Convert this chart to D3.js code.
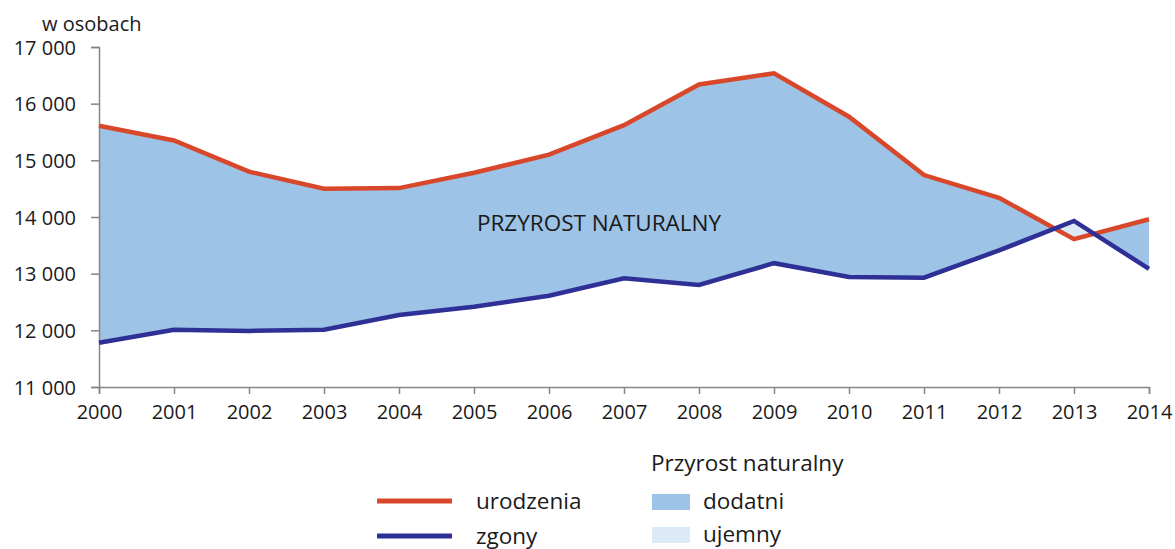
<!DOCTYPE html>
<html>
<head>
<meta charset="utf-8">
<script src="https://cdn.jsdelivr.net/npm/d3@7"></script>
<style>
  body { margin: 0; background: #fff; }
  text { font-family: "Open Sans", sans-serif; fill: #1a1a1a; }
</style>
</head>
<body>
<script>
const width = 1175, height = 549;

// data
const years = [2000, 2001, 2002, 2003, 2004, 2005, 2006, 2007, 2008, 2009, 2010, 2011, 2012, 2013, 2014];
const urodzenia = [15610, 15350, 14800, 14500, 14510, 14780, 15100, 15620, 16340, 16535, 15770, 14740, 14340, 13610, 13960];
const zgony = [11780, 12010, 11990, 12010, 12270, 12415, 12610, 12920, 12800, 13185, 12940, 12930, 13410, 13930, 13085];
const yTicks = [11000, 12000, 13000, 14000, 15000, 16000, 17000];

const data = years.map((y, i) => ({year: y, b: urodzenia[i], d: zgony[i]}));

const x = d3.scaleLinear().domain([2000, 2014]).range([99, 1149]);
const y = d3.scaleLinear().domain([11000, 17000]).range([387, 47]);

const svg = d3.select("body").append("svg")
    .attr("width", width)
    .attr("height", height);

const fmt = v => d3.format(",")(v).replace(",", " ");

// clip paths for positive / negative difference
const defs = svg.append("defs");
defs.append("clipPath").attr("id", "below-b")
  .append("path").datum(data)
  .attr("d", d3.area().x(d => x(d.year)).y0(height).y1(d => y(d.b)));
defs.append("clipPath").attr("id", "below-d")
  .append("path").datum(data)
  .attr("d", d3.area().x(d => x(d.year)).y0(height).y1(d => y(d.d)));

svg.append("path").datum(data)
  .attr("clip-path", "url(#below-b)")
  .attr("fill", "#9dc3e6")
  .attr("d", d3.area().x(d => x(d.year)).y0(0).y1(d => y(d.d)));

svg.append("path").datum(data)
  .attr("clip-path", "url(#below-d)")
  .attr("fill", "#dce9f6")
  .attr("d", d3.area().x(d => x(d.year)).y0(0).y1(d => y(d.b)));

// axes
const yAxis = svg.append("g")
  .attr("transform", "translate(99,0)")
  .call(d3.axisLeft(y).tickValues(yTicks).tickSize(8).tickPadding(15).tickFormat(fmt));
const xAxis = svg.append("g")
  .attr("transform", "translate(0,387)")
  .call(d3.axisBottom(x).tickValues(years).tickSize(7).tickPadding(11).tickFormat(d3.format("d")));

[yAxis, xAxis].forEach(g => {
  g.select(".domain").attr("stroke", "#868686").attr("stroke-width", 1.5);
  g.selectAll(".tick line").attr("stroke", "#868686").attr("stroke-width", 1.5);
  g.selectAll(".tick text").style("font-size", "20px").attr("fill", "#1a1a1a");
});
yAxis.selectAll(".tick text").attr("dy", "0.36em");

// lines
const line = key => d3.line().x(d => x(d.year)).y(d => y(d[key]));
svg.append("path").datum(data)
  .attr("fill", "none").attr("stroke", "#d9472b").attr("stroke-width", 4.5)
  .attr("d", line("b"));
svg.append("path").datum(data)
  .attr("fill", "none").attr("stroke", "#2f3096").attr("stroke-width", 4.5)
  .attr("d", line("d"));

// labels
svg.append("text").attr("x", 42).attr("y", 31)
  .style("font-size", "20px").text("w osobach");
svg.append("text").attr("x", 599).attr("y", 231)
  .attr("text-anchor", "middle")
  .style("font-size", "22.5px").text("PRZYROST NATURALNY");

// legend
const legend = svg.append("g");
legend.append("text").attr("x", 651).attr("y", 471)
  .style("font-size", "22.5px").text("Przyrost naturalny");

const lineItems = [["urodzenia", "#d9472b", 501], ["zgony", "#2f3096", 536]];
lineItems.forEach(([label, col, ly]) => {
  legend.append("line").attr("x1", 377).attr("x2", 452).attr("y1", ly).attr("y2", ly)
    .attr("stroke", col).attr("stroke-width", 5);
  legend.append("text").attr("x", 476).attr("y", ly + 8)
    .style("font-size", "22.5px").text(label);
});

const fillItems = [["dodatni", "#9dc3e6", 494], ["ujemny", "#dce9f6", 527]];
fillItems.forEach(([label, col, ly]) => {
  legend.append("rect").attr("x", 652).attr("y", ly).attr("width", 38).attr("height", 16)
    .attr("fill", col);
  legend.append("text").attr("x", 703).attr("y", ly + 15)
    .style("font-size", "22.5px").text(label);
});
</script>
</body>
</html>
